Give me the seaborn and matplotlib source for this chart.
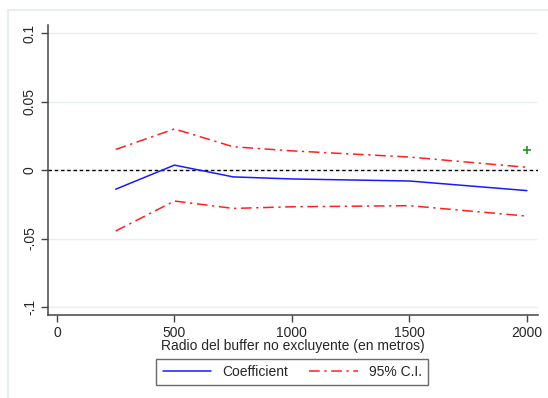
import matplotlib
matplotlib.use("Agg")
import matplotlib.pyplot as plt
import pandas as pd
import seaborn as sns
from matplotlib.lines import Line2D

# values
radio = [250, 500, 750, 1000, 1500, 2000]
coef = [-0.014, 0.0036, -0.005, -0.0065, -0.008, -0.015]
ci_upper = [0.015, 0.030, 0.017, 0.014, 0.0095, 0.002]
ci_lower = [-0.0445, -0.0226, -0.028, -0.0268, -0.026, -0.0336]
extra_x = [2000]
extra_y = [0.0146]

yticks = [0.1, 0.05, 0, -0.05, -0.1]
ytick_labels = ["0.1", "0.05", "0", "-.05", "-.1"]
xticks = [0, 500, 1000, 1500, 2000]

df = pd.DataFrame({"radio": radio, "coef": coef, "upper": ci_upper, "lower": ci_lower})

sns.set_style("white")
plt.rcParams["font.family"] = ["Liberation Sans", "DejaVu Sans"]

fig = plt.figure(figsize=(5.48, 3.98), dpi=100)
ax = fig.add_axes([0.0876, 0.2085, 0.894, 0.7285])

# light frame (top and left edges only visible in the reference)
frame_col = "#e4ecee"
fig.add_artist(Line2D([8 / 548, 1], [1 - 10 / 398] * 2, transform=fig.transFigure,
                      color=frame_col, linewidth=1.2))
fig.add_artist(Line2D([8 / 548] * 2, [0, 1 - 10 / 398], transform=fig.transFigure,
                      color=frame_col, linewidth=1.2))

for t in yticks:
    ax.axhline(t, color="#eaf1f2", linewidth=1.0, zorder=0)
ax.axhline(0, color="black", linestyle=(0, (2.5, 2)), linewidth=1.0, zorder=1)

dashdot = (0, (7, 3, 1.5, 3))
sns.lineplot(data=df, x="radio", y="coef", ax=ax, color="#1a1aff", linewidth=1.1)
sns.lineplot(data=df, x="radio", y="upper", ax=ax, color="#ff2020", linewidth=1.1, linestyle=dashdot)
sns.lineplot(data=df, x="radio", y="lower", ax=ax, color="#ff2020", linewidth=1.1, linestyle=dashdot)
sns.scatterplot(x=extra_x, y=extra_y, ax=ax, marker="+", color="#1a9a1a", s=40, linewidth=1.2)

ax.set_xlim(-38, 2047)
ax.set_ylim(-0.1058, 0.1058)
ax.set_yticks(yticks)
ax.set_yticklabels(ytick_labels, rotation=90, va="center")
ax.set_xticks(xticks)
ax.set_xticklabels([str(x) for x in xticks])
ax.tick_params(axis="both", labelsize=10, direction="out", length=5, width=1,
               color="#444444", left=True, bottom=True, pad=3)
ax.set_xlabel("Radio del buffer no excluyente (en metros)", fontsize=10, labelpad=-1)
ax.set_ylabel("")

for s in ["top", "right"]:
    ax.spines[s].set_visible(False)
for s in ["left", "bottom"]:
    ax.spines[s].set_color("#444444")
    ax.spines[s].set_linewidth(1.1)

handles = [Line2D([], [], color="#1a1aff", linewidth=1.1),
           Line2D([], [], color="#ff2020", linewidth=1.1, linestyle=dashdot)]
leg = fig.legend(handles, ["Coefficient", "95% C.I."], ncol=2, loc="center",
                 bbox_to_anchor=(0.533, 0.065), frameon=True, fancybox=False,
                 fontsize=10, handlelength=3.5, columnspacing=1.5,
                 borderpad=0.45, handletextpad=0.8)
leg.get_frame().set_edgecolor("#444444")
leg.get_frame().set_linewidth(1.0)

fig.savefig("out.png", dpi=100)
